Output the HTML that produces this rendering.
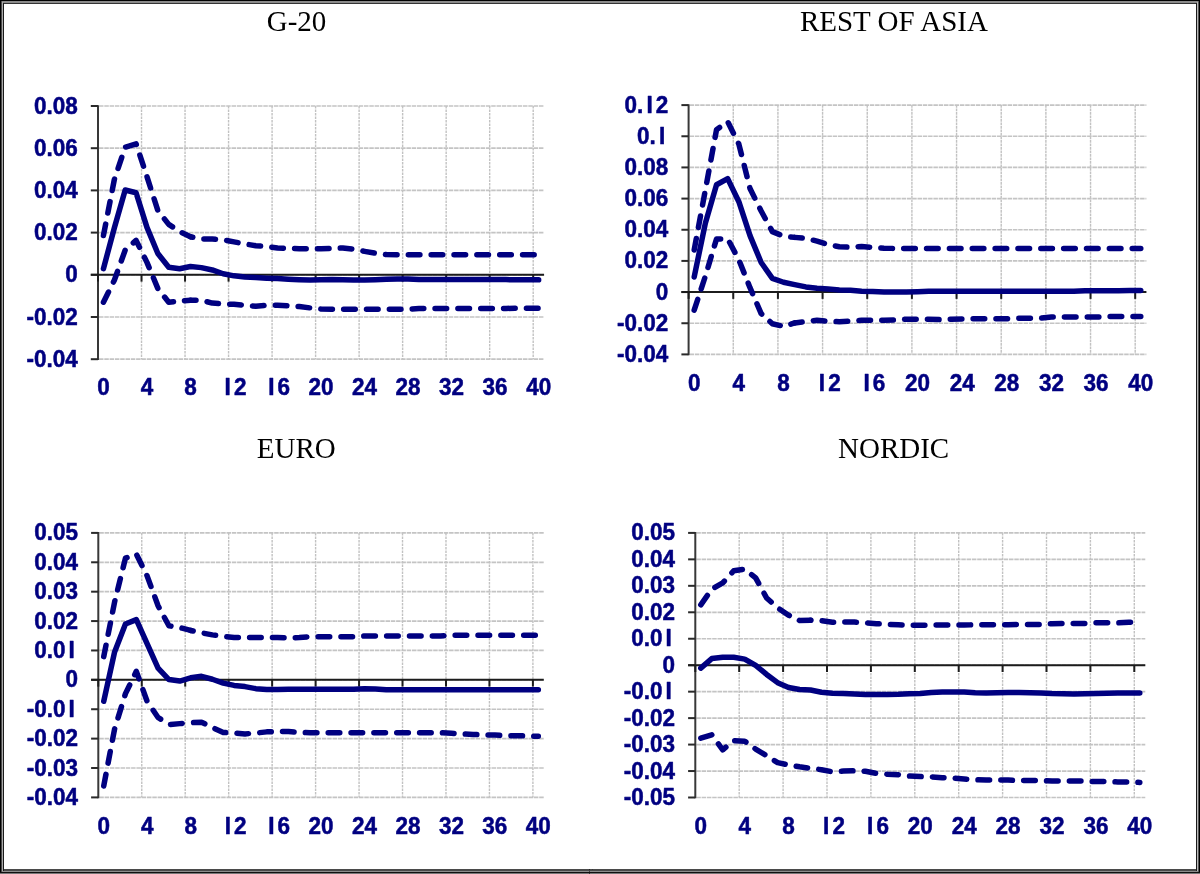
<!DOCTYPE html>
<html><head><meta charset="utf-8"><title>Impulse responses</title>
<style>
html,body{margin:0;padding:0;background:#fff;}
body{width:1200px;height:874px;overflow:hidden;position:relative;}
svg{position:absolute;left:0;top:0;will-change:transform;}
.gh{stroke:#c4c4c4;stroke-width:1.7;stroke-dasharray:4.5 0.8;fill:none;}
.gv{stroke:#c2c2c2;stroke-width:1.4;stroke-dasharray:2.6 0.9;fill:none;}
.ya{stroke:#383838;stroke-width:2;}
.yt{stroke:#2a2a2a;stroke-width:2;}
.xa{stroke:#1c1c1c;stroke-width:2;}
.xt{stroke:#1c1c1c;stroke-width:2;}
.yl{font-family:"Liberation Sans",sans-serif;font-weight:bold;font-size:22.5px;fill:#000080;stroke:#000080;stroke-width:0.5;stroke-linejoin:round;}
.xl{font-family:"Liberation Sans",sans-serif;font-weight:bold;font-size:22.5px;fill:#000080;stroke:#000080;stroke-width:0.5;stroke-linejoin:round;}
.tt{font-family:"Liberation Serif",serif;font-size:29px;fill:#000;text-anchor:middle;}
.sd{stroke:#000080;stroke-width:5.5;fill:none;stroke-linecap:round;stroke-linejoin:round;}
.ss{stroke:#000080;stroke-width:5.5;fill:none;stroke-linecap:round;stroke-linejoin:round;}
.b{position:absolute;}
</style></head>
<body>
<svg width="1200" height="874" viewBox="0 0 1200 874">
<line x1="99.00" y1="106.00" x2="544.08" y2="106.00" class="gh"/>
<line x1="99.00" y1="148.20" x2="544.08" y2="148.20" class="gh"/>
<line x1="99.00" y1="190.40" x2="544.08" y2="190.40" class="gh"/>
<line x1="99.00" y1="232.60" x2="544.08" y2="232.60" class="gh"/>
<line x1="99.00" y1="274.80" x2="544.08" y2="274.80" class="gh"/>
<line x1="99.00" y1="317.00" x2="544.08" y2="317.00" class="gh"/>
<line x1="99.00" y1="359.20" x2="544.08" y2="359.20" class="gh"/>
<line x1="141.52" y1="106.00" x2="141.52" y2="359.20" class="gv"/>
<line x1="185.04" y1="106.00" x2="185.04" y2="359.20" class="gv"/>
<line x1="228.56" y1="106.00" x2="228.56" y2="359.20" class="gv"/>
<line x1="272.08" y1="106.00" x2="272.08" y2="359.20" class="gv"/>
<line x1="315.60" y1="106.00" x2="315.60" y2="359.20" class="gv"/>
<line x1="359.12" y1="106.00" x2="359.12" y2="359.20" class="gv"/>
<line x1="402.64" y1="106.00" x2="402.64" y2="359.20" class="gv"/>
<line x1="446.16" y1="106.00" x2="446.16" y2="359.20" class="gv"/>
<line x1="489.68" y1="106.00" x2="489.68" y2="359.20" class="gv"/>
<line x1="533.20" y1="106.00" x2="533.20" y2="359.20" class="gv"/>
<line x1="98.00" y1="105.20" x2="98.00" y2="360.00" class="ya"/>
<line x1="90.80" y1="106.00" x2="98.00" y2="106.00" class="yt"/>
<line x1="90.80" y1="148.20" x2="98.00" y2="148.20" class="yt"/>
<line x1="90.80" y1="190.40" x2="98.00" y2="190.40" class="yt"/>
<line x1="90.80" y1="232.60" x2="98.00" y2="232.60" class="yt"/>
<line x1="90.80" y1="274.80" x2="98.00" y2="274.80" class="yt"/>
<line x1="90.80" y1="317.00" x2="98.00" y2="317.00" class="yt"/>
<line x1="90.80" y1="359.20" x2="98.00" y2="359.20" class="yt"/>
<line x1="90.80" y1="274.80" x2="544.08" y2="274.80" class="xa"/>
<line x1="98.00" y1="274.80" x2="98.00" y2="281.60" class="xt"/>
<line x1="141.52" y1="274.80" x2="141.52" y2="281.60" class="xt"/>
<line x1="185.04" y1="274.80" x2="185.04" y2="281.60" class="xt"/>
<line x1="228.56" y1="274.80" x2="228.56" y2="281.60" class="xt"/>
<line x1="272.08" y1="274.80" x2="272.08" y2="281.60" class="xt"/>
<line x1="315.60" y1="274.80" x2="315.60" y2="281.60" class="xt"/>
<line x1="359.12" y1="274.80" x2="359.12" y2="281.60" class="xt"/>
<line x1="402.64" y1="274.80" x2="402.64" y2="281.60" class="xt"/>
<line x1="446.16" y1="274.80" x2="446.16" y2="281.60" class="xt"/>
<line x1="489.68" y1="274.80" x2="489.68" y2="281.60" class="xt"/>
<line x1="533.20" y1="274.80" x2="533.20" y2="281.60" class="xt"/>
<text transform="translate(33.91,113.50) scale(1,1.03)" class="yl">0.08</text>
<text transform="translate(33.91,155.70) scale(1,1.03)" class="yl">0.06</text>
<text transform="translate(33.91,197.90) scale(1,1.03)" class="yl">0.04</text>
<text transform="translate(33.91,240.10) scale(1,1.03)" class="yl">0.02</text>
<text transform="translate(65.19,282.30) scale(1,1.03)" class="yl">0</text>
<text transform="translate(26.42,324.50) scale(1,1.03)" class="yl">-0.02</text>
<text transform="translate(26.42,366.70) scale(1,1.03)" class="yl">-0.04</text>
<text transform="translate(97.19,395.40) scale(1,1.03)" class="xl">0</text>
<text transform="translate(140.71,395.40) scale(1,1.03)" class="xl">4</text>
<text transform="translate(184.23,395.40) scale(1,1.03)" class="xl">8</text>
<text transform="translate(221.49,395.40) scale(1,1.03)" class="xl"><tspan dx="3.128">I</tspan><tspan dx="3.128">2</tspan></text>
<text transform="translate(265.01,395.40) scale(1,1.03)" class="xl"><tspan dx="3.128">I</tspan><tspan dx="3.128">6</tspan></text>
<text transform="translate(308.53,395.40) scale(1,1.03)" class="xl">20</text>
<text transform="translate(352.05,395.40) scale(1,1.03)" class="xl">24</text>
<text transform="translate(395.57,395.40) scale(1,1.03)" class="xl">28</text>
<text transform="translate(439.09,395.40) scale(1,1.03)" class="xl">32</text>
<text transform="translate(482.61,395.40) scale(1,1.03)" class="xl">36</text>
<text transform="translate(526.13,395.40) scale(1,1.03)" class="xl">40</text>
<text transform="translate(296.50,30.50) scale(1,1.04)" class="tt">G-20</text>
<path d="M103.44,235.55 L114.32,179.64 L125.20,147.15 L136.08,143.77 L146.96,176.69 L157.84,210.44 L168.72,224.37 L179.60,231.55 L190.48,236.82" class="sd" style="stroke-dasharray:11.637 11.286;stroke-dashoffset:0.000"/>
<path d="M190.48,236.82 L201.36,238.93 L212.24,238.93 L223.12,239.77 L234.00,241.88 L244.88,243.99 L255.76,245.68 L266.64,246.53 L277.52,248.00 L288.40,248.43 L299.28,248.64 L310.16,248.64 L321.04,248.64 L331.92,248.43 L342.80,248.00 L353.68,249.27 L364.56,251.38 L375.44,253.28 L386.32,254.54 L397.20,254.76 L408.08,254.76 L418.96,254.76 L429.84,254.76 L440.72,254.76 L451.60,254.76 L462.48,254.76 L473.36,254.76 L484.24,254.76 L495.12,254.76 L506.00,254.76 L516.88,254.76 L527.76,254.76 L538.64,254.76" class="sd" style="stroke-dasharray:11.6 11.25;stroke-dashoffset:9.226"/>
<path d="M103.44,302.23 L114.32,280.29 L125.20,250.11 L136.08,240.41 L146.96,262.35 L157.84,288.51 L168.72,302.23 L179.60,300.96 L190.48,300.33" class="sd" style="stroke-dasharray:11.411 11.067;stroke-dashoffset:0.000"/>
<path d="M190.48,300.33 L201.36,300.33 L212.24,303.07 L223.12,303.92 L234.00,304.34 L244.88,305.39 L255.76,306.24 L266.64,305.39 L277.52,305.18 L288.40,305.82 L299.28,306.45 L310.16,307.93 L321.04,308.98 L331.92,309.19 L342.80,309.19 L353.68,309.19 L364.56,309.19 L375.44,309.19 L386.32,309.19 L397.20,309.19 L408.08,309.19 L418.96,308.56 L429.84,308.56 L440.72,308.56 L451.60,308.56 L462.48,308.56 L473.36,308.56 L484.24,308.56 L495.12,308.48 L506.00,308.39 L516.88,308.31 L527.76,308.22 L538.64,308.14" class="sd" style="stroke-dasharray:11.6 11.25;stroke-dashoffset:6.085"/>
<path d="M103.44,268.68 L114.32,227.96 L125.20,189.98 L136.08,192.72 L146.96,227.32 L157.84,253.49 L168.72,267.20 L179.60,268.68 L190.48,266.57 L201.36,267.63 L212.24,269.95 L223.12,273.75 L234.00,275.86 L244.88,276.91 L255.76,277.54 L266.64,278.18 L277.52,278.60 L288.40,279.23 L299.28,279.65 L310.16,280.08 L321.04,279.65 L331.92,279.44 L342.80,279.86 L353.68,280.08 L364.56,280.08 L375.44,279.65 L386.32,279.23 L397.20,279.02 L408.08,279.02 L418.96,279.44 L429.84,279.44 L440.72,279.44 L451.60,279.44 L462.48,279.44 L473.36,279.44 L484.24,279.44 L495.12,279.53 L506.00,279.61 L516.88,279.70 L527.76,279.78 L538.64,279.86" class="ss"/>
<line x1="689.60" y1="105.10" x2="1146.37" y2="105.10" class="gh"/>
<line x1="689.60" y1="136.26" x2="1146.37" y2="136.26" class="gh"/>
<line x1="689.60" y1="167.42" x2="1146.37" y2="167.42" class="gh"/>
<line x1="689.60" y1="198.59" x2="1146.37" y2="198.59" class="gh"/>
<line x1="689.60" y1="229.75" x2="1146.37" y2="229.75" class="gh"/>
<line x1="689.60" y1="260.91" x2="1146.37" y2="260.91" class="gh"/>
<line x1="689.60" y1="292.07" x2="1146.37" y2="292.07" class="gh"/>
<line x1="689.60" y1="323.24" x2="1146.37" y2="323.24" class="gh"/>
<line x1="689.60" y1="354.40" x2="1146.37" y2="354.40" class="gh"/>
<line x1="733.26" y1="105.10" x2="733.26" y2="354.40" class="gv"/>
<line x1="777.92" y1="105.10" x2="777.92" y2="354.40" class="gv"/>
<line x1="822.58" y1="105.10" x2="822.58" y2="354.40" class="gv"/>
<line x1="867.24" y1="105.10" x2="867.24" y2="354.40" class="gv"/>
<line x1="911.90" y1="105.10" x2="911.90" y2="354.40" class="gv"/>
<line x1="956.56" y1="105.10" x2="956.56" y2="354.40" class="gv"/>
<line x1="1001.22" y1="105.10" x2="1001.22" y2="354.40" class="gv"/>
<line x1="1045.88" y1="105.10" x2="1045.88" y2="354.40" class="gv"/>
<line x1="1090.54" y1="105.10" x2="1090.54" y2="354.40" class="gv"/>
<line x1="1135.20" y1="105.10" x2="1135.20" y2="354.40" class="gv"/>
<line x1="688.60" y1="104.30" x2="688.60" y2="355.20" class="ya"/>
<line x1="681.40" y1="105.10" x2="688.60" y2="105.10" class="yt"/>
<line x1="681.40" y1="136.26" x2="688.60" y2="136.26" class="yt"/>
<line x1="681.40" y1="167.42" x2="688.60" y2="167.42" class="yt"/>
<line x1="681.40" y1="198.59" x2="688.60" y2="198.59" class="yt"/>
<line x1="681.40" y1="229.75" x2="688.60" y2="229.75" class="yt"/>
<line x1="681.40" y1="260.91" x2="688.60" y2="260.91" class="yt"/>
<line x1="681.40" y1="292.07" x2="688.60" y2="292.07" class="yt"/>
<line x1="681.40" y1="323.24" x2="688.60" y2="323.24" class="yt"/>
<line x1="681.40" y1="354.40" x2="688.60" y2="354.40" class="yt"/>
<line x1="681.40" y1="292.07" x2="1146.37" y2="292.07" class="xa"/>
<line x1="688.60" y1="292.07" x2="688.60" y2="298.88" class="xt"/>
<line x1="733.26" y1="292.07" x2="733.26" y2="298.88" class="xt"/>
<line x1="777.92" y1="292.07" x2="777.92" y2="298.88" class="xt"/>
<line x1="822.58" y1="292.07" x2="822.58" y2="298.88" class="xt"/>
<line x1="867.24" y1="292.07" x2="867.24" y2="298.88" class="xt"/>
<line x1="911.90" y1="292.07" x2="911.90" y2="298.88" class="xt"/>
<line x1="956.56" y1="292.07" x2="956.56" y2="298.88" class="xt"/>
<line x1="1001.22" y1="292.07" x2="1001.22" y2="298.88" class="xt"/>
<line x1="1045.88" y1="292.07" x2="1045.88" y2="298.88" class="xt"/>
<line x1="1090.54" y1="292.07" x2="1090.54" y2="298.88" class="xt"/>
<line x1="1135.20" y1="292.07" x2="1135.20" y2="298.88" class="xt"/>
<text transform="translate(624.52,112.60) scale(1,1.03)" class="yl">0.<tspan dx="3.128">I</tspan><tspan dx="3.128">2</tspan></text>
<text transform="translate(637.03,143.76) scale(1,1.03)" class="yl">0.<tspan dx="3.128">I</tspan></text>
<text transform="translate(624.52,174.92) scale(1,1.03)" class="yl">0.08</text>
<text transform="translate(624.52,206.09) scale(1,1.03)" class="yl">0.06</text>
<text transform="translate(624.52,237.25) scale(1,1.03)" class="yl">0.04</text>
<text transform="translate(624.52,268.41) scale(1,1.03)" class="yl">0.02</text>
<text transform="translate(655.79,299.57) scale(1,1.03)" class="yl">0</text>
<text transform="translate(617.02,330.74) scale(1,1.03)" class="yl">-0.02</text>
<text transform="translate(617.02,361.90) scale(1,1.03)" class="yl">-0.04</text>
<text transform="translate(687.93,390.60) scale(1,1.03)" class="xl">0</text>
<text transform="translate(732.59,390.60) scale(1,1.03)" class="xl">4</text>
<text transform="translate(777.25,390.60) scale(1,1.03)" class="xl">8</text>
<text transform="translate(815.65,390.60) scale(1,1.03)" class="xl"><tspan dx="3.128">I</tspan><tspan dx="3.128">2</tspan></text>
<text transform="translate(860.31,390.60) scale(1,1.03)" class="xl"><tspan dx="3.128">I</tspan><tspan dx="3.128">6</tspan></text>
<text transform="translate(904.97,390.60) scale(1,1.03)" class="xl">20</text>
<text transform="translate(949.63,390.60) scale(1,1.03)" class="xl">24</text>
<text transform="translate(994.29,390.60) scale(1,1.03)" class="xl">28</text>
<text transform="translate(1038.95,390.60) scale(1,1.03)" class="xl">32</text>
<text transform="translate(1083.61,390.60) scale(1,1.03)" class="xl">36</text>
<text transform="translate(1128.27,390.60) scale(1,1.03)" class="xl">40</text>
<text transform="translate(893.90,30.50) scale(1,1.04)" class="tt">REST OF ASIA</text>
<path d="M694.18,250.01 L705.35,190.02 L716.51,129.72 L727.68,121.62 L738.84,144.05 L750.01,188.46 L761.17,211.05 L772.34,231.62 L783.50,236.14 L794.67,237.38" class="sd" style="stroke-dasharray:11.628 11.277;stroke-dashoffset:0.000"/>
<path d="M794.67,237.38 L805.83,238.32 L817.00,241.12 L828.16,244.55 L839.33,246.73 L850.49,247.20 L861.66,246.42 L872.82,247.51 L883.99,248.14 L895.15,248.45 L906.32,248.45 L917.48,248.45 L928.65,248.45 L939.81,248.45 L950.98,248.45 L962.14,248.45 L973.31,248.45 L984.47,248.45 L995.64,248.45 L1006.80,248.45 L1017.97,248.45 L1029.13,248.45 L1040.30,248.45 L1051.46,248.45 L1062.63,248.45 L1073.79,248.45 L1084.96,248.45 L1096.12,248.45 L1107.29,248.45 L1118.45,248.45 L1129.62,248.45 L1140.78,248.45" class="sd" style="stroke-dasharray:11.6 11.25;stroke-dashoffset:3.990"/>
<path d="M694.18,310.15 L705.35,276.18 L716.51,238.94 L727.68,238.79 L738.84,259.82 L750.01,287.71 L761.17,313.58 L772.34,323.70 L783.50,326.35 L794.67,322.93" class="sd" style="stroke-dasharray:11.398 11.054;stroke-dashoffset:0.000"/>
<path d="M794.67,322.93 L805.83,321.68 L817.00,320.28 L828.16,321.21 L839.33,321.68 L850.49,321.06 L861.66,320.28 L872.82,320.28 L883.99,320.28 L895.15,319.97 L906.32,319.19 L917.48,319.19 L928.65,319.19 L939.81,319.65 L950.98,319.19 L962.14,318.87 L973.31,318.72 L984.47,318.72 L995.64,318.72 L1006.80,318.72 L1017.97,318.25 L1029.13,318.25 L1040.30,318.25 L1051.46,317.00 L1062.63,317.00 L1073.79,317.00 L1084.96,317.00 L1096.12,317.00 L1107.29,316.54 L1118.45,316.54 L1129.62,316.54 L1140.78,316.54" class="sd" style="stroke-dasharray:11.6 11.25;stroke-dashoffset:4.055"/>
<path d="M694.18,276.96 L705.35,223.21 L716.51,184.72 L727.68,178.64 L738.84,201.70 L750.01,235.67 L761.17,262.47 L772.34,278.36 L783.50,282.26 L794.67,284.60 L805.83,286.93 L817.00,288.18 L828.16,289.11 L839.33,290.05 L850.49,290.36 L861.66,291.14 L872.82,291.61 L883.99,291.92 L895.15,292.07 L906.32,292.07 L917.48,291.76 L928.65,291.30 L939.81,291.30 L950.98,291.30 L962.14,291.30 L973.31,291.30 L984.47,291.30 L995.64,291.30 L1006.80,291.30 L1017.97,291.30 L1029.13,291.30 L1040.30,291.30 L1051.46,291.30 L1062.63,291.30 L1073.79,291.30 L1084.96,290.83 L1096.12,290.77 L1107.29,290.70 L1118.45,290.64 L1129.62,290.58 L1140.78,290.52" class="ss"/>
<line x1="99.30" y1="532.90" x2="543.76" y2="532.90" class="gh"/>
<line x1="99.30" y1="562.29" x2="543.76" y2="562.29" class="gh"/>
<line x1="99.30" y1="591.68" x2="543.76" y2="591.68" class="gh"/>
<line x1="99.30" y1="621.07" x2="543.76" y2="621.07" class="gh"/>
<line x1="99.30" y1="650.46" x2="543.76" y2="650.46" class="gh"/>
<line x1="99.30" y1="679.84" x2="543.76" y2="679.84" class="gh"/>
<line x1="99.30" y1="709.23" x2="543.76" y2="709.23" class="gh"/>
<line x1="99.30" y1="738.62" x2="543.76" y2="738.62" class="gh"/>
<line x1="99.30" y1="768.01" x2="543.76" y2="768.01" class="gh"/>
<line x1="99.30" y1="797.40" x2="543.76" y2="797.40" class="gh"/>
<line x1="141.76" y1="532.90" x2="141.76" y2="797.40" class="gv"/>
<line x1="185.22" y1="532.90" x2="185.22" y2="797.40" class="gv"/>
<line x1="228.68" y1="532.90" x2="228.68" y2="797.40" class="gv"/>
<line x1="272.14" y1="532.90" x2="272.14" y2="797.40" class="gv"/>
<line x1="315.60" y1="532.90" x2="315.60" y2="797.40" class="gv"/>
<line x1="359.06" y1="532.90" x2="359.06" y2="797.40" class="gv"/>
<line x1="402.52" y1="532.90" x2="402.52" y2="797.40" class="gv"/>
<line x1="445.98" y1="532.90" x2="445.98" y2="797.40" class="gv"/>
<line x1="489.44" y1="532.90" x2="489.44" y2="797.40" class="gv"/>
<line x1="532.90" y1="532.90" x2="532.90" y2="797.40" class="gv"/>
<line x1="98.30" y1="532.10" x2="98.30" y2="798.20" class="ya"/>
<line x1="91.10" y1="532.90" x2="98.30" y2="532.90" class="yt"/>
<line x1="91.10" y1="562.29" x2="98.30" y2="562.29" class="yt"/>
<line x1="91.10" y1="591.68" x2="98.30" y2="591.68" class="yt"/>
<line x1="91.10" y1="621.07" x2="98.30" y2="621.07" class="yt"/>
<line x1="91.10" y1="650.46" x2="98.30" y2="650.46" class="yt"/>
<line x1="91.10" y1="679.84" x2="98.30" y2="679.84" class="yt"/>
<line x1="91.10" y1="709.23" x2="98.30" y2="709.23" class="yt"/>
<line x1="91.10" y1="738.62" x2="98.30" y2="738.62" class="yt"/>
<line x1="91.10" y1="768.01" x2="98.30" y2="768.01" class="yt"/>
<line x1="91.10" y1="797.40" x2="98.30" y2="797.40" class="yt"/>
<line x1="91.10" y1="679.84" x2="543.76" y2="679.84" class="xa"/>
<line x1="98.30" y1="679.84" x2="98.30" y2="686.64" class="xt"/>
<line x1="141.76" y1="679.84" x2="141.76" y2="686.64" class="xt"/>
<line x1="185.22" y1="679.84" x2="185.22" y2="686.64" class="xt"/>
<line x1="228.68" y1="679.84" x2="228.68" y2="686.64" class="xt"/>
<line x1="272.14" y1="679.84" x2="272.14" y2="686.64" class="xt"/>
<line x1="315.60" y1="679.84" x2="315.60" y2="686.64" class="xt"/>
<line x1="359.06" y1="679.84" x2="359.06" y2="686.64" class="xt"/>
<line x1="402.52" y1="679.84" x2="402.52" y2="686.64" class="xt"/>
<line x1="445.98" y1="679.84" x2="445.98" y2="686.64" class="xt"/>
<line x1="489.44" y1="679.84" x2="489.44" y2="686.64" class="xt"/>
<line x1="532.90" y1="679.84" x2="532.90" y2="686.64" class="xt"/>
<text transform="translate(34.21,540.40) scale(1,1.03)" class="yl">0.05</text>
<text transform="translate(34.21,569.79) scale(1,1.03)" class="yl">0.04</text>
<text transform="translate(34.21,599.18) scale(1,1.03)" class="yl">0.03</text>
<text transform="translate(34.21,628.57) scale(1,1.03)" class="yl">0.02</text>
<text transform="translate(34.21,657.96) scale(1,1.03)" class="yl">0.0<tspan dx="3.128">I</tspan></text>
<text transform="translate(65.49,687.34) scale(1,1.03)" class="yl">0</text>
<text transform="translate(26.72,716.73) scale(1,1.03)" class="yl">-0.0<tspan dx="3.128">I</tspan></text>
<text transform="translate(26.72,746.12) scale(1,1.03)" class="yl">-0.02</text>
<text transform="translate(26.72,775.51) scale(1,1.03)" class="yl">-0.03</text>
<text transform="translate(26.72,804.90) scale(1,1.03)" class="yl">-0.04</text>
<text transform="translate(97.48,833.60) scale(1,1.03)" class="xl">0</text>
<text transform="translate(140.94,833.60) scale(1,1.03)" class="xl">4</text>
<text transform="translate(184.40,833.60) scale(1,1.03)" class="xl">8</text>
<text transform="translate(221.60,833.60) scale(1,1.03)" class="xl"><tspan dx="3.128">I</tspan><tspan dx="3.128">2</tspan></text>
<text transform="translate(265.06,833.60) scale(1,1.03)" class="xl"><tspan dx="3.128">I</tspan><tspan dx="3.128">6</tspan></text>
<text transform="translate(308.52,833.60) scale(1,1.03)" class="xl">20</text>
<text transform="translate(351.98,833.60) scale(1,1.03)" class="xl">24</text>
<text transform="translate(395.44,833.60) scale(1,1.03)" class="xl">28</text>
<text transform="translate(438.90,833.60) scale(1,1.03)" class="xl">32</text>
<text transform="translate(482.36,833.60) scale(1,1.03)" class="xl">36</text>
<text transform="translate(525.82,833.60) scale(1,1.03)" class="xl">40</text>
<text transform="translate(296.30,458.10) scale(1,1.04)" class="tt">EURO</text>
<path d="M103.73,656.63 L114.60,601.96 L125.46,558.17 L136.33,554.06 L147.19,576.10 L158.06,605.78 L168.92,625.77 L179.79,627.53 L190.65,630.47" class="sd" style="stroke-dasharray:11.546 11.198;stroke-dashoffset:0.000"/>
<path d="M190.65,630.47 L201.52,632.82 L212.38,634.88 L223.25,636.35 L234.11,637.52 L244.98,637.52 L255.84,637.52 L266.71,637.52 L277.57,637.52 L288.44,637.82 L299.30,637.52 L310.17,636.64 L321.03,636.64 L331.90,636.64 L342.76,636.64 L353.63,636.64 L364.49,636.05 L375.36,636.05 L386.22,636.05 L397.09,636.05 L407.95,636.05 L418.82,636.05 L429.68,636.05 L440.55,636.05 L451.41,635.17 L462.28,635.17 L473.14,635.17 L484.01,635.17 L494.87,635.17 L505.74,635.17 L516.60,635.17 L527.47,635.17 L538.33,635.17" class="sd" style="stroke-dasharray:11.6 11.25;stroke-dashoffset:9.000"/>
<path d="M103.73,785.94 L114.60,728.92 L125.46,693.66 L136.33,671.32 L147.19,701.59 L158.06,717.46 L168.92,724.52 L179.79,723.63 L190.65,722.75" class="sd" style="stroke-dasharray:11.785 11.430;stroke-dashoffset:0.000"/>
<path d="M190.65,722.75 L201.52,722.16 L212.38,727.45 L223.25,732.45 L234.11,733.04 L244.98,733.92 L255.84,733.04 L266.71,731.86 L277.57,731.57 L288.44,731.57 L299.30,732.45 L310.17,732.74 L321.03,732.74 L331.90,732.74 L342.76,732.74 L353.63,732.74 L364.49,732.74 L375.36,732.74 L386.22,732.74 L397.09,732.74 L407.95,732.74 L418.82,732.74 L429.68,732.74 L440.55,732.74 L451.41,733.33 L462.28,733.92 L473.14,734.51 L484.01,734.80 L494.87,735.10 L505.74,735.68 L516.60,735.68 L527.47,735.98 L538.33,736.27" class="sd" style="stroke-dasharray:11.6 11.25;stroke-dashoffset:19.890"/>
<path d="M103.73,701.30 L114.60,651.92 L125.46,624.01 L136.33,619.60 L147.19,643.99 L158.06,668.09 L168.92,679.55 L179.79,681.02 L190.65,677.79 L201.52,676.32 L212.38,679.26 L223.25,683.08 L234.11,685.43 L244.98,686.60 L255.84,688.66 L266.71,689.54 L277.57,689.54 L288.44,689.25 L299.30,689.25 L310.17,689.25 L321.03,689.25 L331.90,689.25 L342.76,689.25 L353.63,689.25 L364.49,688.66 L375.36,688.96 L386.22,689.84 L397.09,689.84 L407.95,689.84 L418.82,689.84 L429.68,689.84 L440.55,689.84 L451.41,689.84 L462.28,689.84 L473.14,689.84 L484.01,689.84 L494.87,689.84 L505.74,689.84 L516.60,689.84 L527.47,689.84 L538.33,689.84" class="ss"/>
<line x1="696.30" y1="532.90" x2="1145.27" y2="532.90" class="gh"/>
<line x1="696.30" y1="559.36" x2="1145.27" y2="559.36" class="gh"/>
<line x1="696.30" y1="585.82" x2="1145.27" y2="585.82" class="gh"/>
<line x1="696.30" y1="612.28" x2="1145.27" y2="612.28" class="gh"/>
<line x1="696.30" y1="638.74" x2="1145.27" y2="638.74" class="gh"/>
<line x1="696.30" y1="665.20" x2="1145.27" y2="665.20" class="gh"/>
<line x1="696.30" y1="691.66" x2="1145.27" y2="691.66" class="gh"/>
<line x1="696.30" y1="718.12" x2="1145.27" y2="718.12" class="gh"/>
<line x1="696.30" y1="744.58" x2="1145.27" y2="744.58" class="gh"/>
<line x1="696.30" y1="771.04" x2="1145.27" y2="771.04" class="gh"/>
<line x1="696.30" y1="797.50" x2="1145.27" y2="797.50" class="gh"/>
<line x1="739.20" y1="532.90" x2="739.20" y2="797.50" class="gv"/>
<line x1="783.10" y1="532.90" x2="783.10" y2="797.50" class="gv"/>
<line x1="827.00" y1="532.90" x2="827.00" y2="797.50" class="gv"/>
<line x1="870.90" y1="532.90" x2="870.90" y2="797.50" class="gv"/>
<line x1="914.80" y1="532.90" x2="914.80" y2="797.50" class="gv"/>
<line x1="958.70" y1="532.90" x2="958.70" y2="797.50" class="gv"/>
<line x1="1002.60" y1="532.90" x2="1002.60" y2="797.50" class="gv"/>
<line x1="1046.50" y1="532.90" x2="1046.50" y2="797.50" class="gv"/>
<line x1="1090.40" y1="532.90" x2="1090.40" y2="797.50" class="gv"/>
<line x1="1134.30" y1="532.90" x2="1134.30" y2="797.50" class="gv"/>
<line x1="695.30" y1="532.10" x2="695.30" y2="798.30" class="ya"/>
<line x1="688.10" y1="532.90" x2="695.30" y2="532.90" class="yt"/>
<line x1="688.10" y1="559.36" x2="695.30" y2="559.36" class="yt"/>
<line x1="688.10" y1="585.82" x2="695.30" y2="585.82" class="yt"/>
<line x1="688.10" y1="612.28" x2="695.30" y2="612.28" class="yt"/>
<line x1="688.10" y1="638.74" x2="695.30" y2="638.74" class="yt"/>
<line x1="688.10" y1="665.20" x2="695.30" y2="665.20" class="yt"/>
<line x1="688.10" y1="691.66" x2="695.30" y2="691.66" class="yt"/>
<line x1="688.10" y1="718.12" x2="695.30" y2="718.12" class="yt"/>
<line x1="688.10" y1="744.58" x2="695.30" y2="744.58" class="yt"/>
<line x1="688.10" y1="771.04" x2="695.30" y2="771.04" class="yt"/>
<line x1="688.10" y1="797.50" x2="695.30" y2="797.50" class="yt"/>
<line x1="688.10" y1="665.20" x2="1145.27" y2="665.20" class="xa"/>
<line x1="695.30" y1="665.20" x2="695.30" y2="672.00" class="xt"/>
<line x1="739.20" y1="665.20" x2="739.20" y2="672.00" class="xt"/>
<line x1="783.10" y1="665.20" x2="783.10" y2="672.00" class="xt"/>
<line x1="827.00" y1="665.20" x2="827.00" y2="672.00" class="xt"/>
<line x1="870.90" y1="665.20" x2="870.90" y2="672.00" class="xt"/>
<line x1="914.80" y1="665.20" x2="914.80" y2="672.00" class="xt"/>
<line x1="958.70" y1="665.20" x2="958.70" y2="672.00" class="xt"/>
<line x1="1002.60" y1="665.20" x2="1002.60" y2="672.00" class="xt"/>
<line x1="1046.50" y1="665.20" x2="1046.50" y2="672.00" class="xt"/>
<line x1="1090.40" y1="665.20" x2="1090.40" y2="672.00" class="xt"/>
<line x1="1134.30" y1="665.20" x2="1134.30" y2="672.00" class="xt"/>
<text transform="translate(631.22,540.40) scale(1,1.03)" class="yl">0.05</text>
<text transform="translate(631.22,566.86) scale(1,1.03)" class="yl">0.04</text>
<text transform="translate(631.22,593.32) scale(1,1.03)" class="yl">0.03</text>
<text transform="translate(631.22,619.78) scale(1,1.03)" class="yl">0.02</text>
<text transform="translate(631.22,646.24) scale(1,1.03)" class="yl">0.0<tspan dx="3.128">I</tspan></text>
<text transform="translate(662.49,672.70) scale(1,1.03)" class="yl">0</text>
<text transform="translate(623.72,699.16) scale(1,1.03)" class="yl">-0.0<tspan dx="3.128">I</tspan></text>
<text transform="translate(623.72,725.62) scale(1,1.03)" class="yl">-0.02</text>
<text transform="translate(623.72,752.08) scale(1,1.03)" class="yl">-0.03</text>
<text transform="translate(623.72,778.54) scale(1,1.03)" class="yl">-0.04</text>
<text transform="translate(623.72,805.00) scale(1,1.03)" class="yl">-0.05</text>
<text transform="translate(694.53,833.70) scale(1,1.03)" class="xl">0</text>
<text transform="translate(738.43,833.70) scale(1,1.03)" class="xl">4</text>
<text transform="translate(782.33,833.70) scale(1,1.03)" class="xl">8</text>
<text transform="translate(819.98,833.70) scale(1,1.03)" class="xl"><tspan dx="3.128">I</tspan><tspan dx="3.128">2</tspan></text>
<text transform="translate(863.88,833.70) scale(1,1.03)" class="xl"><tspan dx="3.128">I</tspan><tspan dx="3.128">6</tspan></text>
<text transform="translate(907.78,833.70) scale(1,1.03)" class="xl">20</text>
<text transform="translate(951.68,833.70) scale(1,1.03)" class="xl">24</text>
<text transform="translate(995.58,833.70) scale(1,1.03)" class="xl">28</text>
<text transform="translate(1039.48,833.70) scale(1,1.03)" class="xl">32</text>
<text transform="translate(1083.38,833.70) scale(1,1.03)" class="xl">36</text>
<text transform="translate(1127.28,833.70) scale(1,1.03)" class="xl">40</text>
<text transform="translate(893.60,457.90) scale(1,1.04)" class="tt">NORDIC</text>
<path d="M700.79,604.87 L711.76,589.26 L722.74,582.91 L733.71,570.74 L744.69,569.15 L755.66,577.88 L766.64,597.99 L777.61,607.78 L788.59,615.19 L799.56,620.48 L810.54,620.22" class="sd" style="stroke-dasharray:11.516 11.168;stroke-dashoffset:0.000"/>
<path d="M810.54,620.22 L821.51,620.75 L832.49,622.33 L843.46,622.07 L854.44,622.07 L865.41,622.86 L876.39,623.66 L887.36,624.45 L898.34,624.72 L909.31,625.25 L920.29,625.18 L931.26,625.11 L942.24,625.05 L953.21,624.98 L964.19,624.91 L975.16,624.85 L986.14,624.78 L997.11,624.72 L1008.09,624.65 L1019.06,624.58 L1030.04,624.52 L1041.01,624.45 L1051.99,623.66 L1062.96,623.39 L1073.94,623.39 L1084.91,623.39 L1095.89,622.86 L1106.86,622.86 L1117.84,622.86 L1128.81,622.33 L1139.79,622.33" class="sd" style="stroke-dasharray:11.6 11.25;stroke-dashoffset:11.267"/>
<path d="M700.79,738.23 L711.76,734.79 L722.74,749.87 L733.71,740.61 L744.69,741.14 L755.66,749.08 L766.64,755.69 L777.61,762.57 L788.59,764.95 L799.56,766.81 L810.54,768.39" class="sd" style="stroke-dasharray:11.549 11.200;stroke-dashoffset:0.000"/>
<path d="M810.54,768.39 L821.51,769.72 L832.49,771.83 L843.46,771.04 L854.44,770.78 L865.41,771.30 L876.39,773.42 L887.36,774.22 L898.34,774.74 L909.31,776.07 L920.29,776.60 L931.26,776.86 L942.24,777.65 L953.21,778.18 L964.19,778.98 L975.16,779.77 L986.14,780.04 L997.11,780.04 L1008.09,780.04 L1019.06,780.57 L1030.04,780.57 L1041.01,780.57 L1051.99,781.09 L1062.96,781.09 L1073.94,781.09 L1084.91,781.09 L1095.89,781.62 L1106.86,781.62 L1117.84,781.89 L1128.81,781.89 L1139.79,782.42" class="sd" style="stroke-dasharray:11.6 11.25;stroke-dashoffset:14.584"/>
<path d="M700.79,668.11 L711.76,658.59 L722.74,657.26 L733.71,657.26 L744.69,659.11 L755.66,665.46 L766.64,674.46 L777.61,682.66 L788.59,687.43 L799.56,689.54 L810.54,690.07 L821.51,692.19 L832.49,693.25 L843.46,693.51 L854.44,694.04 L865.41,694.57 L876.39,694.57 L887.36,694.57 L898.34,694.31 L909.31,693.78 L920.29,693.51 L931.26,692.45 L942.24,691.92 L953.21,691.92 L964.19,691.92 L975.16,692.72 L986.14,692.98 L997.11,692.72 L1008.09,692.45 L1019.06,692.45 L1030.04,692.72 L1041.01,692.98 L1051.99,693.51 L1062.96,693.78 L1073.94,694.04 L1084.91,693.78 L1095.89,693.51 L1106.86,693.25 L1117.84,692.98 L1128.81,692.98 L1139.79,692.98" class="ss"/>
</svg>
<div class="b" style="left:0;top:0;width:1200px;height:1px;background:#000"></div>
<div class="b" style="left:1px;top:1px;width:1198px;height:2px;background:#8a8a8a"></div>
<div class="b" style="left:0;top:0;width:1px;height:873px;background:#000"></div>
<div class="b" style="left:1199px;top:0;width:1px;height:873px;background:#000"></div>
<div class="b" style="left:1px;top:1px;width:1px;height:871px;background:#4a4a4a"></div>
<div class="b" style="left:1198px;top:1px;width:1px;height:871px;background:#555"></div>
<div class="b" style="left:2px;top:2px;width:1px;height:870px;background:#aaa"></div>
<div class="b" style="left:1197px;top:2px;width:1px;height:870px;background:#bbb"></div>
<div class="b" style="left:3px;top:3px;width:1194px;height:1px;background:#333"></div>
<div class="b" style="left:3px;top:3px;width:1px;height:868px;background:#1a1a1a"></div>
<div class="b" style="left:1196px;top:3px;width:1px;height:868px;background:#1a1a1a"></div>
<div class="b" style="left:4px;top:869px;width:1192px;height:2px;background:#4a4a4a"></div>
<div class="b" style="left:2px;top:871px;width:1196px;height:1px;background:#8c8c8c"></div>
<div class="b" style="left:0;top:872px;width:1200px;height:1px;background:#101010"></div>
<div class="b" style="left:0;top:873px;width:1200px;height:1px;background:#777"></div>
<div class="b" style="left:589px;top:869px;width:1px;height:1px;background:#222"></div>
<div class="b" style="left:589px;top:870px;width:1px;height:2px;background:#444"></div>
<div class="b" style="left:589px;top:873px;width:1px;height:1px;background:#333"></div>
<div class="b" style="left:592px;top:869px;width:1px;height:1px;background:#3a3a3a"></div>
</body></html>
